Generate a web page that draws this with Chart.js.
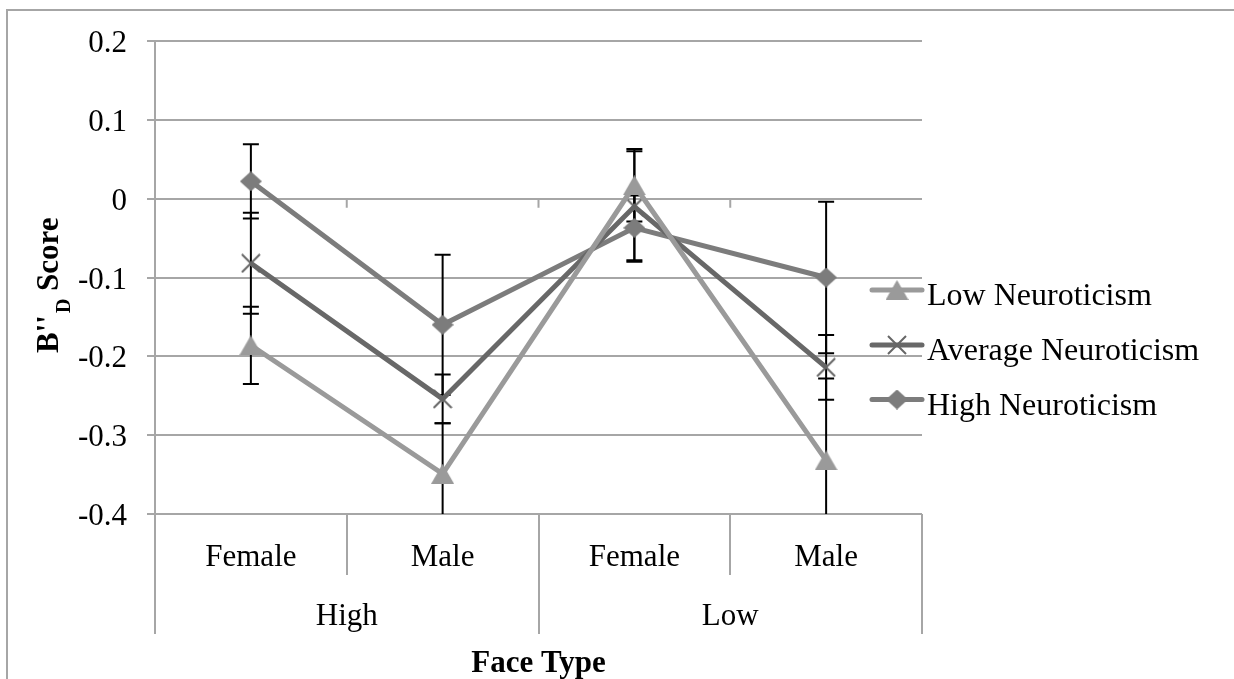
<!DOCTYPE html>
<html><head><meta charset="utf-8">
<script src="https://cdn.jsdelivr.net/npm/chart.js@4/dist/chart.umd.min.js"></script>
<style>html,body{margin:0;padding:0;background:#fff;}#wrap{width:1234px;height:679px;position:relative;}</style>
</head><body><div id="wrap"><canvas id="c" width="1234" height="679"></canvas></div>
<script>
const faceGender = ['Female', 'Male', 'Female', 'Male'];
const faceGroup = ['High', 'Low'];
const yTicks = [0.2, 0.1, 0, -0.1, -0.2, -0.3, -0.4];
const seriesNames = ['Low Neuroticism', 'Average Neuroticism', 'High Neuroticism'];
const lowVals = [-0.186, -0.349, 0.017, -0.332];
const lowErr = [0.049, 0.064, 0.046, 0.104];
const avgVals = [-0.082, -0.254, -0.010, -0.214];
const avgErr = [0.064, 0.031, 0.070, 0.041];
const highVals = [0.022, -0.160, -0.037, -0.100];
const highErr = [0.047, 0.089, 0.041, 0.096];
const yTitleParts = ["B''", 'D', ' Score'];
const xTitle = 'Face Type';

const FONT = 'Liberation Serif';
const GRID = '#a6a6a6';
const cLow = '#9a9a9a', cAvg = '#686868', cHigh = '#7c7c7c';

function mk(w, h, draw) { const c = document.createElement('canvas'); c.width = w; c.height = h; draw(c.getContext('2d'), w, h); return c; }
const triImg = mk(23, 20, (g, w, h) => { g.fillStyle = cLow; g.beginPath(); g.moveTo(w / 2, 0); g.lineTo(w, h); g.lineTo(0, h); g.closePath(); g.fill(); });
const crossImg = mk(20, 20, (g, w, h) => { g.strokeStyle = '#666'; g.lineWidth = 2; g.beginPath(); g.moveTo(1, 1); g.lineTo(w - 1, h - 1); g.moveTo(w - 1, 1); g.lineTo(1, h - 1); g.stroke(); });
const diaImg = mk(22, 20, (g, w, h) => { g.fillStyle = cHigh; g.beginPath(); g.moveTo(w / 2, 0); g.lineTo(w, h / 2); g.lineTo(w / 2, h); g.lineTo(0, h / 2); g.closePath(); g.fill(); });

const frame = { id: 'frame', beforeDraw(chart) { const g = chart.ctx; g.save(); g.fillStyle = '#fff'; g.fillRect(0, 0, chart.width, chart.height); g.strokeStyle = GRID; g.lineWidth = 2; g.beginPath(); g.moveTo(7, 700); g.lineTo(7, 10); g.lineTo(1240, 10); g.stroke(); g.restore(); } };

const zeroTicks = { id: 'zeroTicks', beforeDatasetsDraw(chart) {
  const g = chart.ctx, xs = chart.scales.x, ys = chart.scales.y; const y0 = ys.getPixelForValue(0);
  g.save(); g.strokeStyle = GRID; g.lineWidth = 2; g.beginPath();
  for (let i = 1; i < faceGender.length; i++) { const px = (xs.getPixelForValue(i - 1) + xs.getPixelForValue(i)) / 2; g.moveTo(px, y0); g.lineTo(px, y0 + 9); }
  g.stroke(); g.restore(); } };

const errorBars = { id: 'errorBars', beforeDatasetsDraw(chart) {
  const g = chart.ctx, ys = chart.scales.y, a = chart.chartArea;
  g.save(); g.strokeStyle = '#000'; g.lineWidth = 2;
  chart.data.datasets.forEach((ds, di) => {
    const meta = chart.getDatasetMeta(di);
    ds.errors.forEach((e, i) => {
      const px = meta.data[i].x, v = ds.data[i];
      const t = ys.getPixelForValue(v + e), b = ys.getPixelForValue(v - e);
      const tt = Math.max(t, a.top), bb = Math.min(b, a.bottom);
      g.beginPath(); g.moveTo(px, tt); g.lineTo(px, bb);
      if (t >= a.top) { g.moveTo(px - 8, t); g.lineTo(px + 8, t); }
      if (b <= a.bottom) { g.moveTo(px - 8, b); g.lineTo(px + 8, b); }
      g.stroke();
    });
  });
  g.restore(); } };

const legendRows = [290, 345, 399.5];
const legendPlugin = { id: 'legendCustom', afterDraw(chart) {
  const g = chart.ctx; g.save();
  chart.data.datasets.forEach((ds, i) => {
    const y = legendRows[i];
    g.strokeStyle = ds.borderColor; g.lineWidth = 5; g.lineCap = 'round';
    g.beginPath(); g.moveTo(872, y); g.lineTo(922, y); g.stroke();
    const img = ds.pointStyle; g.drawImage(img, 897 - img.width / 2, y - img.height / 2);
    g.fillStyle = '#000'; g.font = '32px "' + FONT + '"'; g.textBaseline = 'alphabetic'; g.textAlign = 'left';
    g.fillText(ds.label, 927, y + 15);
  });
  g.restore(); } };

const yTitlePlugin = { id: 'yTitle', afterDraw(chart) {
  const g = chart.ctx; g.save(); g.translate(58, 280.5); g.rotate(-Math.PI / 2);
  g.fillStyle = '#000'; g.textBaseline = 'alphabetic'; g.textAlign = 'left';
  let x = -72.5;
  g.font = 'bold 31px "' + FONT + '"'; g.fillText(yTitleParts[0], x, 0); x += g.measureText(yTitleParts[0]).width + 2;
  g.font = 'bold 20px "' + FONT + '"'; g.fillText(yTitleParts[1], x, 12); x += g.measureText(yTitleParts[1]).width;
  g.font = 'bold 31px "' + FONT + '"'; g.fillText(yTitleParts[2], x, 0);
  g.restore(); } };

const tickFont = { family: FONT, size: 31 };

new Chart(document.getElementById('c'), {
  type: 'line',
  data: {
    labels: faceGender,
    datasets: [
      { label: seriesNames[0], data: lowVals, errors: lowErr, borderColor: cLow, backgroundColor: cLow, borderWidth: 5, pointStyle: triImg, pointRadius: 10, tension: 0 },
      { label: seriesNames[1], data: avgVals, errors: avgErr, borderColor: cAvg, backgroundColor: cAvg, borderWidth: 5, pointStyle: crossImg, pointRadius: 10, tension: 0 },
      { label: seriesNames[2], data: highVals, errors: highErr, borderColor: cHigh, backgroundColor: cHigh, borderWidth: 5, pointStyle: diaImg, pointRadius: 10, tension: 0 }
    ]
  },
  options: {
    responsive: false, animation: false, devicePixelRatio: 1,
    layout: { padding: { left: 0, top: 41, right: 312, bottom: 0 } },
    plugins: { legend: { display: false }, tooltip: { enabled: false } },
    scales: {
      x: { type: 'category', offset: true, position: 'bottom', weight: 0,
        grid: { display: true, drawOnChartArea: false, drawTicks: true, tickLength: 61, color: GRID, lineWidth: 2, offset: true },
        border: { display: false },
        ticks: { font: tickFont, color: '#000', padding: -36, maxRotation: 0, autoSkip: false },
        afterFit(s) { s.height = 61; } },
      x2: { type: 'category', labels: faceGroup, offset: true, position: 'bottom', weight: 1,
        grid: { display: true, drawOnChartArea: false, drawTicks: true, tickLength: 59, color: GRID, lineWidth: 2, offset: true },
        border: { display: false },
        ticks: { font: tickFont, color: '#000', padding: -36, maxRotation: 0, autoSkip: false },
        title: { display: true, text: xTitle, color: '#000', padding: 0, font: { family: FONT, size: 31, weight: 'bold', lineHeight: 0.97 } },
        afterFit(s) { s.height = 104; } },
      y: { type: 'linear', position: 'left', min: -0.4, max: 0.2,
        afterBuildTicks(s) { s.ticks = yTicks.map(v => ({ value: v })); },
        grid: { color: GRID, lineWidth: 2, tickLength: 8, drawTicks: true },
        border: { display: true, color: GRID, width: 2 },
        ticks: { font: tickFont, color: '#000', padding: 20, labelOffset: 3, callback: v => String(Math.round(v * 10) / 10) },
        afterFit(s) { s.width = 155; } }
    }
  },
  plugins: [frame, zeroTicks, errorBars, legendPlugin, yTitlePlugin]
});
</script></body></html>
